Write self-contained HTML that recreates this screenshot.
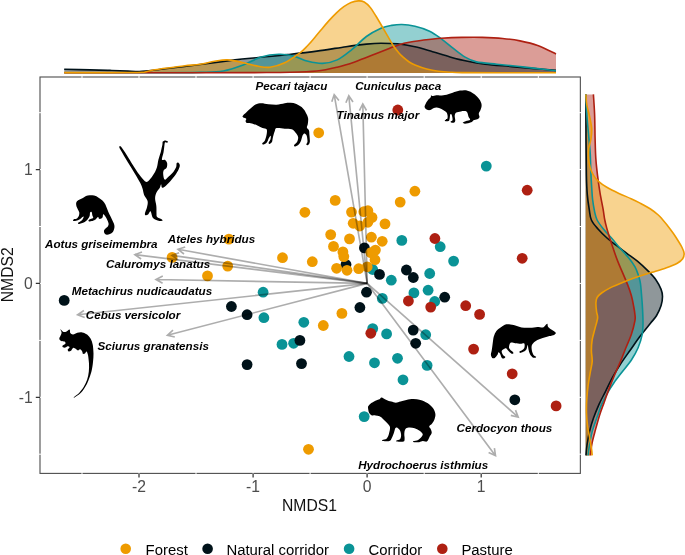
<!DOCTYPE html>
<html lang="en"><head><meta charset="utf-8"><title>NMDS ordination</title>
<style>html,body{margin:0;padding:0;background:#fff}svg{display:block;will-change:transform}text{font-family:"Liberation Sans",Arial,Helvetica,sans-serif}.sp{font-weight:bold;font-style:italic;font-size:11.65px;fill:#000}.tk{font-size:15.7px;fill:#4d4d4d}.ti{font-size:15.7px;fill:#111}.lg{font-size:14.9px;fill:#000}</style></head><body>
<svg width="685" height="555" viewBox="0 0 685 555">
<rect width="685" height="555" fill="#fff"/>
<g id="top-density">
<path d="M64.2 69.3C68.5 69.4 82.4 69.7 90 69.9C97.6 70.1 103.7 70.2 110 70.4C116.3 70.6 122.7 70.9 128 71.1C133.3 71.3 137.5 71.6 142 71.4C146.5 71.2 151.2 70.4 155 70C158.8 69.6 160.8 69.3 165 68.8C169.2 68.3 174.2 67.7 180 67C185.8 66.3 190.8 65.7 200 64.5C209.2 63.3 225.3 61.1 235 59.9C244.7 58.7 249.6 58.4 258.4 57.5C267.2 56.6 277.9 55.7 287.6 54.6C297.3 53.5 307.1 52.4 316.8 51.1C326.5 49.8 337.7 47.9 346 46.7C354.3 45.5 360.6 44.7 366.4 44.1C372.2 43.5 375.8 43.2 381 43.2C386.2 43.2 391.8 43.2 397.5 43.8C403.2 44.4 409.1 45.4 415 46.7C420.9 48 426.8 50 432.6 51.7C438.4 53.4 444.2 55.3 450 56.9C455.8 58.5 461.8 60.1 467.6 61.3C473.4 62.5 477.7 63.3 485 64.2C492.3 65.1 502.6 65.8 511.4 66.6C520.2 67.4 530.3 68.3 537.7 68.9C545.1 69.5 553 70.2 556 70.4L556 72.9L64.2 72.9Z" fill="#001219" fill-opacity=".44"/>
<path d="M64.2 72.7C78.5 72.7 127.4 72.8 150 72.7C172.6 72.7 187.8 72.7 200 72.4C212.2 72.1 216.1 72.3 223.4 71C230.7 69.7 237.5 67.1 243.8 64.8C250.1 62.4 255.5 58.6 261.3 56.9C267.1 55.1 273.5 54.4 278.8 54.3C284.1 54.1 288.5 54.8 293.4 56C298.3 57.2 303.1 60.1 308 61.3C312.9 62.5 317.7 63.6 322.6 63.4C327.5 63.2 332.3 62.2 337.2 59.9C342.1 57.6 346.9 53.5 351.8 49.6C356.7 45.7 361.5 40 366.4 36.5C371.3 33 376.8 30.2 381 28.3C385.2 26.4 388.2 26 391.7 25.4C395.2 24.8 398 24.4 401.9 24.5C405.8 24.6 410.4 25.2 415 26.3C419.6 27.4 425.2 29.1 429.6 31.2C434 33.3 437.4 36 441.3 38.8C445.2 41.6 449.1 45.2 453 48.2C456.9 51.2 460.8 54.6 464.7 56.9C468.6 59.2 471 60.7 476.4 61.9C481.8 63.1 490 63.5 496.8 64.2C503.6 64.9 510.4 65.6 517.2 66.3C524 67 531.2 67.9 537.7 68.6C544.2 69.3 553 70.3 556 70.7L556 72.9L64.2 72.9Z" fill="#0a9396" fill-opacity=".44"/>
<path d="M64.2 72.8C78.5 72.8 119 72.8 150 72.8C181 72.8 226.7 72.7 250 72.6C273.3 72.5 278.9 72.6 290 72.3C301.1 72 308.9 71.8 316.8 71C324.7 70.2 330.9 68.7 337.2 67.2C343.5 65.7 348.4 64.1 354.7 61.9C361 59.7 369.3 56.3 375.2 54C381.1 51.7 385.7 49.8 389.8 48.2C393.9 46.6 396.8 45.4 400 44.4C403.2 43.4 405.2 43 409.2 42.3C413.2 41.6 418.4 40.7 423.8 40C429.2 39.3 435 38.6 441.3 38.2C447.6 37.8 455 37.5 461.8 37.4C468.6 37.3 475.4 37.2 482.2 37.4C489 37.6 496.3 37.9 502.6 38.5C508.9 39.1 514.1 39.7 520 40.9C525.9 42.1 531.7 43.3 537.7 45.5C543.7 47.7 553 52.6 556 54L556 72.9L64.2 72.9Z" fill="#ae2012" fill-opacity=".44"/>
<path d="M64.2 72.6C70.2 72.6 89 72.6 100 72.6C111 72.6 123 72.5 130 72.5C137 72.5 139 72.5 142 72.3C145 72.1 145.8 71.7 148 71.3C150.2 70.9 152.2 70.2 155 69.7C157.8 69.2 160 69 165 68.3C170 67.6 179.2 66.5 185 65.8C190.8 65.1 195.1 65 200 64.2C204.9 63.5 210 62 214.6 61.3C219.2 60.6 222.8 59.6 227.7 59.9C232.6 60.1 238.7 61.7 243.8 62.8C248.9 63.9 254 65.6 258.4 66.3C262.8 67 265.6 67.8 270 67.2C274.4 66.6 279.7 65.2 284.7 62.8C289.7 60.4 296.2 55.6 300 52.8C303.8 50 304.9 48.5 307.3 46C309.7 43.5 312.2 40.6 314.6 37.7C317 34.9 319.5 31.8 321.9 28.9C324.3 26 326.8 23.1 329.2 20.4C331.6 17.7 334.1 15.1 336.5 12.8C338.9 10.5 341.4 8.3 343.8 6.6C346.2 4.9 348.7 3.3 351.1 2.4C353.5 1.5 356.2 1 358.4 0.9C360.6 0.8 362.2 0.9 364.2 2C366.1 3.1 368.2 5 370.1 7.3C372.1 9.6 373.9 12.9 375.9 16C377.8 19.1 379.9 22.7 381.8 26C383.7 29.3 385.4 32.2 387.4 35.6C389.4 39 391.8 43.4 393.7 46.2C395.6 49 396.9 50.5 398.5 52.4C400.1 54.3 401.6 55.8 403.4 57.4C405.2 59 407.3 60.7 409.2 62C411.1 63.3 412.1 63.8 415 65C417.9 66.2 422.8 68 426.7 69C430.6 70 434.5 70.7 438.4 71.2C442.3 71.7 446.1 72 450 72.2C453.9 72.4 453.7 72.5 462 72.6C470.3 72.7 484.3 72.7 500 72.7C515.7 72.7 546.7 72.7 556 72.7L556 72.9L64.2 72.9Z" fill="#ee9b00" fill-opacity=".44"/>
<path d="M64.2 69.3C68.5 69.4 82.4 69.7 90 69.9C97.6 70.1 103.7 70.2 110 70.4C116.3 70.6 122.7 70.9 128 71.1C133.3 71.3 137.5 71.6 142 71.4C146.5 71.2 151.2 70.4 155 70C158.8 69.6 160.8 69.3 165 68.8C169.2 68.3 174.2 67.7 180 67C185.8 66.3 190.8 65.7 200 64.5C209.2 63.3 225.3 61.1 235 59.9C244.7 58.7 249.6 58.4 258.4 57.5C267.2 56.6 277.9 55.7 287.6 54.6C297.3 53.5 307.1 52.4 316.8 51.1C326.5 49.8 337.7 47.9 346 46.7C354.3 45.5 360.6 44.7 366.4 44.1C372.2 43.5 375.8 43.2 381 43.2C386.2 43.2 391.8 43.2 397.5 43.8C403.2 44.4 409.1 45.4 415 46.7C420.9 48 426.8 50 432.6 51.7C438.4 53.4 444.2 55.3 450 56.9C455.8 58.5 461.8 60.1 467.6 61.3C473.4 62.5 477.7 63.3 485 64.2C492.3 65.1 502.6 65.8 511.4 66.6C520.2 67.4 530.3 68.3 537.7 68.9C545.1 69.5 553 70.2 556 70.4" fill="none" stroke="#001219" stroke-width="1.6"/>
<path d="M64.2 72.7C78.5 72.7 127.4 72.8 150 72.7C172.6 72.7 187.8 72.7 200 72.4C212.2 72.1 216.1 72.3 223.4 71C230.7 69.7 237.5 67.1 243.8 64.8C250.1 62.4 255.5 58.6 261.3 56.9C267.1 55.1 273.5 54.4 278.8 54.3C284.1 54.1 288.5 54.8 293.4 56C298.3 57.2 303.1 60.1 308 61.3C312.9 62.5 317.7 63.6 322.6 63.4C327.5 63.2 332.3 62.2 337.2 59.9C342.1 57.6 346.9 53.5 351.8 49.6C356.7 45.7 361.5 40 366.4 36.5C371.3 33 376.8 30.2 381 28.3C385.2 26.4 388.2 26 391.7 25.4C395.2 24.8 398 24.4 401.9 24.5C405.8 24.6 410.4 25.2 415 26.3C419.6 27.4 425.2 29.1 429.6 31.2C434 33.3 437.4 36 441.3 38.8C445.2 41.6 449.1 45.2 453 48.2C456.9 51.2 460.8 54.6 464.7 56.9C468.6 59.2 471 60.7 476.4 61.9C481.8 63.1 490 63.5 496.8 64.2C503.6 64.9 510.4 65.6 517.2 66.3C524 67 531.2 67.9 537.7 68.6C544.2 69.3 553 70.3 556 70.7" fill="none" stroke="#0a9396" stroke-width="1.6"/>
<path d="M64.2 72.8C78.5 72.8 119 72.8 150 72.8C181 72.8 226.7 72.7 250 72.6C273.3 72.5 278.9 72.6 290 72.3C301.1 72 308.9 71.8 316.8 71C324.7 70.2 330.9 68.7 337.2 67.2C343.5 65.7 348.4 64.1 354.7 61.9C361 59.7 369.3 56.3 375.2 54C381.1 51.7 385.7 49.8 389.8 48.2C393.9 46.6 396.8 45.4 400 44.4C403.2 43.4 405.2 43 409.2 42.3C413.2 41.6 418.4 40.7 423.8 40C429.2 39.3 435 38.6 441.3 38.2C447.6 37.8 455 37.5 461.8 37.4C468.6 37.3 475.4 37.2 482.2 37.4C489 37.6 496.3 37.9 502.6 38.5C508.9 39.1 514.1 39.7 520 40.9C525.9 42.1 531.7 43.3 537.7 45.5C543.7 47.7 553 52.6 556 54" fill="none" stroke="#ae2012" stroke-width="1.6"/>
<path d="M64.2 72.6C70.2 72.6 89 72.6 100 72.6C111 72.6 123 72.5 130 72.5C137 72.5 139 72.5 142 72.3C145 72.1 145.8 71.7 148 71.3C150.2 70.9 152.2 70.2 155 69.7C157.8 69.2 160 69 165 68.3C170 67.6 179.2 66.5 185 65.8C190.8 65.1 195.1 65 200 64.2C204.9 63.5 210 62 214.6 61.3C219.2 60.6 222.8 59.6 227.7 59.9C232.6 60.1 238.7 61.7 243.8 62.8C248.9 63.9 254 65.6 258.4 66.3C262.8 67 265.6 67.8 270 67.2C274.4 66.6 279.7 65.2 284.7 62.8C289.7 60.4 296.2 55.6 300 52.8C303.8 50 304.9 48.5 307.3 46C309.7 43.5 312.2 40.6 314.6 37.7C317 34.9 319.5 31.8 321.9 28.9C324.3 26 326.8 23.1 329.2 20.4C331.6 17.7 334.1 15.1 336.5 12.8C338.9 10.5 341.4 8.3 343.8 6.6C346.2 4.9 348.7 3.3 351.1 2.4C353.5 1.5 356.2 1 358.4 0.9C360.6 0.8 362.2 0.9 364.2 2C366.1 3.1 368.2 5 370.1 7.3C372.1 9.6 373.9 12.9 375.9 16C377.8 19.1 379.9 22.7 381.8 26C383.7 29.3 385.4 32.2 387.4 35.6C389.4 39 391.8 43.4 393.7 46.2C395.6 49 396.9 50.5 398.5 52.4C400.1 54.3 401.6 55.8 403.4 57.4C405.2 59 407.3 60.7 409.2 62C411.1 63.3 412.1 63.8 415 65C417.9 66.2 422.8 68 426.7 69C430.6 70 434.5 70.7 438.4 71.2C442.3 71.7 446.1 72 450 72.2C453.9 72.4 453.7 72.5 462 72.6C470.3 72.7 484.3 72.7 500 72.7C515.7 72.7 546.7 72.7 556 72.7" fill="none" stroke="#ee9b00" stroke-width="1.6"/>
</g>
<g id="right-density">
<path d="M585.9 94.4C585.9 101.8 585.9 125.1 586 138.6C586.1 152 586.2 165.8 586.4 175.1C586.6 184.4 586.8 188.9 587.3 194.6C587.8 200.3 588.5 205 589.2 209.2C589.9 213.4 589.9 216.7 591.4 220C592.9 223.3 595.4 226 598 229C600.6 232 604 235.3 607 238C610 240.7 612.7 242.6 616 245.2C619.3 247.8 623.2 250.6 626.8 253.3C630.4 256 634.1 258.4 637.7 261.4C641.3 264.4 645.5 268.4 648.5 271.4C651.5 274.4 653.6 276.5 655.7 279.5C657.8 282.5 660 286.5 661.1 289.4C662.2 292.2 662.5 293.9 662.5 296.6C662.5 299.3 662.1 302.5 661.1 305.6C660.1 308.8 658.4 312.5 656.6 315.5C654.8 318.5 653.1 319.9 650.3 323.5C647.4 327.1 642.9 332.5 639.5 337C636.1 341.5 633.2 346 630 350.5C626.8 355 623.4 359.6 620.5 364.1C617.6 368.6 614.9 373.1 612.4 377.6C609.9 382.1 608 386.6 605.7 391.1C603.5 395.6 600.9 400.1 598.9 404.6C596.9 409.1 595.1 413.6 593.5 418.1C591.9 422.6 590.6 427.1 589.5 431.6C588.4 436.1 587.6 441.1 587 445.1C586.4 449.1 586.2 453.7 586 455.4L585.7 455.4L585.7 94.4Z" fill="#001219" fill-opacity=".44"/>
<path d="M585.9 94.4C586 97.7 586.4 107.7 586.8 114.3C587.2 120.9 587.9 127.3 588.5 133.8C589.1 140.3 589.8 146.7 590.2 153.2C590.6 159.7 590.6 167 590.9 172.7C591.1 178.4 591.4 182.8 591.7 187.3C592 191.8 592.1 195.4 592.6 199.5C593.1 203.6 593.9 208.2 594.6 211.6C595.4 215 595.6 217.1 597.1 220C598.6 222.9 601 226 603.4 229C605.8 232 608.6 234.7 611.5 238C614.4 241.3 617.6 245.5 620.5 248.8C623.4 252.1 626.2 254.8 628.6 257.8C631 260.8 633.3 263.8 635 266.8C636.7 269.8 637.7 273.2 638.6 275.9C639.5 278.6 639.9 279.8 640.4 283.1C640.9 286.4 641.2 291.2 641.6 295.7C642 300.2 642.4 305.4 642.6 310C642.8 314.6 643.1 319.4 643 323.5C642.9 327.6 643 330.2 642.2 334.3C641.4 338.4 639.9 343.5 638.1 347.8C636.3 352.1 634.1 355.9 631.4 360C628.7 364.1 624.8 368.4 621.9 372.2C619 376 616.3 379.4 613.8 383C611.3 386.6 609 390.2 607 393.8C605 397.4 603.3 400.6 601.6 404.6C599.9 408.7 598.4 413.6 596.8 418.1C595.2 422.6 593.4 427.1 592.2 431.6C591 436.1 590.2 441.1 589.5 445.1C588.8 449.1 588.3 453.7 588.1 455.4L585.7 455.4L585.7 94.4Z" fill="#0a9396" fill-opacity=".44"/>
<path d="M593.4 94.4C593.6 97.7 594.3 106.9 594.6 114.3C594.9 121.7 594.9 131.3 595.1 138.6C595.3 145.9 595.4 152 595.8 158.1C596.2 164.2 596.8 169.4 597.5 175.1C598.2 180.8 599 186.5 599.9 192.2C600.8 197.9 602.3 204.6 603.1 209.2C603.9 213.8 604.1 216.7 604.8 220C605.4 223.3 606.2 226 607 229C607.8 232 608.7 234.7 609.7 238C610.8 241.3 611.9 244.9 613.3 248.8C614.6 252.7 616.1 257.2 617.8 261.4C619.4 265.6 621.6 270.2 623.2 274.1C624.9 278 626.3 281.3 627.7 284.9C629.1 288.5 630.4 292.1 631.4 295.7C632.4 299.3 633.1 303.3 633.7 306.5C634.3 309.7 634.8 312.6 635 315C635.2 317.4 635.5 317.6 634.9 320.8C634.3 324 632.9 329.8 631.4 334.3C629.9 338.8 627.7 343.3 625.9 347.8C624.1 352.3 622.4 356.9 620.5 361.4C618.6 365.9 616.5 370.4 614.6 374.9C612.7 379.4 610.9 383.9 609.2 388.4C607.5 392.9 605.9 397.4 604.3 401.9C602.7 406.4 600.9 410.9 599.5 415.4C598.1 419.9 596.9 424.4 595.7 428.9C594.5 433.4 593.1 438 592.2 442.4C591.3 446.8 590.6 453.2 590.3 455.4L585.7 455.4L585.7 94.4Z" fill="#ae2012" fill-opacity=".44"/>
<path d="M585.9 94.4C586 96.1 586.2 100.9 586.8 104.6C587.4 108.3 588.9 112.8 589.7 116.8C590.5 120.8 591.5 125.3 591.7 128.9C591.9 132.5 591.5 135.3 591 138.6C590.5 141.8 589.2 145.2 588.8 148.4C588.4 151.7 588.3 154.9 588.5 158.1C588.7 161.3 589.4 165 590.2 167.8C591 170.6 592.1 172.9 593.4 175.1C594.7 177.3 596 179.2 598.2 181.2C600.4 183.2 603.3 185.3 606.8 187.3C610.2 189.3 614.8 191.5 618.9 193.4C623 195.3 627.6 197.1 631.1 198.7C634.6 200.3 636.9 201.4 640.1 203.1C643.3 204.8 647.5 207 650.5 209C653.5 211 656.2 213.2 658.3 215C660.4 216.8 660.9 217.7 662.9 220C664.9 222.3 667.9 226 670.1 229C672.4 232 674.5 235 676.4 238C678.3 241 680.5 244.4 681.8 247C683.1 249.6 684 251.4 684.1 253.3C684.2 255.2 683.8 257.1 682.7 258.7C681.6 260.3 680 261.7 677.3 263.2C674.6 264.7 670.7 266.2 666.5 267.7C662.3 269.2 656.9 270.8 652.1 272.3C647.3 273.8 642.5 275.2 637.7 276.8C632.9 278.4 627.7 280.4 623.2 282.2C618.7 284 614.2 285.8 610.6 287.6C607 289.4 603.9 291.4 601.6 293C599.4 294.6 598.1 295.9 597.1 297.5C596.1 299.1 596 300.5 595.9 302.9C595.8 305.3 596.3 309.4 596.6 311.9C596.9 314.4 597.9 315.3 597.6 318.1C597.3 320.9 595.8 325.3 594.9 328.9C594 332.5 592.8 336.1 592.2 339.7C591.6 343.3 591.4 346.9 591.4 350.5C591.4 354.1 592.4 357.8 592.2 361.4C592 365 591 368.1 590.3 372.2C589.6 376.2 588.7 381.2 588.1 385.7C587.5 390.2 587.1 394.7 586.8 399.2C586.5 403.7 586.4 408.2 586.5 412.7C586.6 417.2 587.1 422.1 587.6 426.2C588.1 430.2 588.9 433.4 589.5 437C590.1 440.6 590.9 444.7 591.4 447.8C591.9 450.9 592.1 454.1 592.2 455.4L585.7 455.4L585.7 94.4Z" fill="#ee9b00" fill-opacity=".44"/>
<path d="M585.9 94.4C585.9 101.8 585.9 125.1 586 138.6C586.1 152 586.2 165.8 586.4 175.1C586.6 184.4 586.8 188.9 587.3 194.6C587.8 200.3 588.5 205 589.2 209.2C589.9 213.4 589.9 216.7 591.4 220C592.9 223.3 595.4 226 598 229C600.6 232 604 235.3 607 238C610 240.7 612.7 242.6 616 245.2C619.3 247.8 623.2 250.6 626.8 253.3C630.4 256 634.1 258.4 637.7 261.4C641.3 264.4 645.5 268.4 648.5 271.4C651.5 274.4 653.6 276.5 655.7 279.5C657.8 282.5 660 286.5 661.1 289.4C662.2 292.2 662.5 293.9 662.5 296.6C662.5 299.3 662.1 302.5 661.1 305.6C660.1 308.8 658.4 312.5 656.6 315.5C654.8 318.5 653.1 319.9 650.3 323.5C647.4 327.1 642.9 332.5 639.5 337C636.1 341.5 633.2 346 630 350.5C626.8 355 623.4 359.6 620.5 364.1C617.6 368.6 614.9 373.1 612.4 377.6C609.9 382.1 608 386.6 605.7 391.1C603.5 395.6 600.9 400.1 598.9 404.6C596.9 409.1 595.1 413.6 593.5 418.1C591.9 422.6 590.6 427.1 589.5 431.6C588.4 436.1 587.6 441.1 587 445.1C586.4 449.1 586.2 453.7 586 455.4" fill="none" stroke="#001219" stroke-width="1.6"/>
<path d="M585.9 94.4C586 97.7 586.4 107.7 586.8 114.3C587.2 120.9 587.9 127.3 588.5 133.8C589.1 140.3 589.8 146.7 590.2 153.2C590.6 159.7 590.6 167 590.9 172.7C591.1 178.4 591.4 182.8 591.7 187.3C592 191.8 592.1 195.4 592.6 199.5C593.1 203.6 593.9 208.2 594.6 211.6C595.4 215 595.6 217.1 597.1 220C598.6 222.9 601 226 603.4 229C605.8 232 608.6 234.7 611.5 238C614.4 241.3 617.6 245.5 620.5 248.8C623.4 252.1 626.2 254.8 628.6 257.8C631 260.8 633.3 263.8 635 266.8C636.7 269.8 637.7 273.2 638.6 275.9C639.5 278.6 639.9 279.8 640.4 283.1C640.9 286.4 641.2 291.2 641.6 295.7C642 300.2 642.4 305.4 642.6 310C642.8 314.6 643.1 319.4 643 323.5C642.9 327.6 643 330.2 642.2 334.3C641.4 338.4 639.9 343.5 638.1 347.8C636.3 352.1 634.1 355.9 631.4 360C628.7 364.1 624.8 368.4 621.9 372.2C619 376 616.3 379.4 613.8 383C611.3 386.6 609 390.2 607 393.8C605 397.4 603.3 400.6 601.6 404.6C599.9 408.7 598.4 413.6 596.8 418.1C595.2 422.6 593.4 427.1 592.2 431.6C591 436.1 590.2 441.1 589.5 445.1C588.8 449.1 588.3 453.7 588.1 455.4" fill="none" stroke="#0a9396" stroke-width="1.6"/>
<path d="M593.4 94.4C593.6 97.7 594.3 106.9 594.6 114.3C594.9 121.7 594.9 131.3 595.1 138.6C595.3 145.9 595.4 152 595.8 158.1C596.2 164.2 596.8 169.4 597.5 175.1C598.2 180.8 599 186.5 599.9 192.2C600.8 197.9 602.3 204.6 603.1 209.2C603.9 213.8 604.1 216.7 604.8 220C605.4 223.3 606.2 226 607 229C607.8 232 608.7 234.7 609.7 238C610.8 241.3 611.9 244.9 613.3 248.8C614.6 252.7 616.1 257.2 617.8 261.4C619.4 265.6 621.6 270.2 623.2 274.1C624.9 278 626.3 281.3 627.7 284.9C629.1 288.5 630.4 292.1 631.4 295.7C632.4 299.3 633.1 303.3 633.7 306.5C634.3 309.7 634.8 312.6 635 315C635.2 317.4 635.5 317.6 634.9 320.8C634.3 324 632.9 329.8 631.4 334.3C629.9 338.8 627.7 343.3 625.9 347.8C624.1 352.3 622.4 356.9 620.5 361.4C618.6 365.9 616.5 370.4 614.6 374.9C612.7 379.4 610.9 383.9 609.2 388.4C607.5 392.9 605.9 397.4 604.3 401.9C602.7 406.4 600.9 410.9 599.5 415.4C598.1 419.9 596.9 424.4 595.7 428.9C594.5 433.4 593.1 438 592.2 442.4C591.3 446.8 590.6 453.2 590.3 455.4" fill="none" stroke="#ae2012" stroke-width="1.6"/>
<path d="M585.9 94.4C586 96.1 586.2 100.9 586.8 104.6C587.4 108.3 588.9 112.8 589.7 116.8C590.5 120.8 591.5 125.3 591.7 128.9C591.9 132.5 591.5 135.3 591 138.6C590.5 141.8 589.2 145.2 588.8 148.4C588.4 151.7 588.3 154.9 588.5 158.1C588.7 161.3 589.4 165 590.2 167.8C591 170.6 592.1 172.9 593.4 175.1C594.7 177.3 596 179.2 598.2 181.2C600.4 183.2 603.3 185.3 606.8 187.3C610.2 189.3 614.8 191.5 618.9 193.4C623 195.3 627.6 197.1 631.1 198.7C634.6 200.3 636.9 201.4 640.1 203.1C643.3 204.8 647.5 207 650.5 209C653.5 211 656.2 213.2 658.3 215C660.4 216.8 660.9 217.7 662.9 220C664.9 222.3 667.9 226 670.1 229C672.4 232 674.5 235 676.4 238C678.3 241 680.5 244.4 681.8 247C683.1 249.6 684 251.4 684.1 253.3C684.2 255.2 683.8 257.1 682.7 258.7C681.6 260.3 680 261.7 677.3 263.2C674.6 264.7 670.7 266.2 666.5 267.7C662.3 269.2 656.9 270.8 652.1 272.3C647.3 273.8 642.5 275.2 637.7 276.8C632.9 278.4 627.7 280.4 623.2 282.2C618.7 284 614.2 285.8 610.6 287.6C607 289.4 603.9 291.4 601.6 293C599.4 294.6 598.1 295.9 597.1 297.5C596.1 299.1 596 300.5 595.9 302.9C595.8 305.3 596.3 309.4 596.6 311.9C596.9 314.4 597.9 315.3 597.6 318.1C597.3 320.9 595.8 325.3 594.9 328.9C594 332.5 592.8 336.1 592.2 339.7C591.6 343.3 591.4 346.9 591.4 350.5C591.4 354.1 592.4 357.8 592.2 361.4C592 365 591 368.1 590.3 372.2C589.6 376.2 588.7 381.2 588.1 385.7C587.5 390.2 587.1 394.7 586.8 399.2C586.5 403.7 586.4 408.2 586.5 412.7C586.6 417.2 587.1 422.1 587.6 426.2C588.1 430.2 588.9 433.4 589.5 437C590.1 440.6 590.9 444.7 591.4 447.8C591.9 450.9 592.1 454.1 592.2 455.4" fill="none" stroke="#ee9b00" stroke-width="1.6"/>
</g>
<g id="points">
<g fill="#0a9396"><circle cx="486.3" cy="166.1" r="5.4"/><circle cx="401.8" cy="240.4" r="5.4"/><circle cx="372.7" cy="269.5" r="5.4"/><circle cx="391.3" cy="280.2" r="5.4"/><circle cx="413.9" cy="292.9" r="5.4"/><circle cx="440.2" cy="246.7" r="5.4"/><circle cx="453.6" cy="261.1" r="5.4"/><circle cx="429.7" cy="273.5" r="5.4"/><circle cx="428.1" cy="290.2" r="5.4"/><circle cx="434.7" cy="301.5" r="5.4"/><circle cx="425.7" cy="334.7" r="5.4"/><circle cx="427.1" cy="365.4" r="5.4"/><circle cx="397.5" cy="358.3" r="5.4"/><circle cx="403" cy="379.8" r="5.4"/><circle cx="382.3" cy="298.4" r="5.4"/><circle cx="303.8" cy="322.3" r="5.4"/><circle cx="263.1" cy="292.2" r="5.4"/><circle cx="263.9" cy="317.7" r="5.4"/><circle cx="372.7" cy="328.6" r="5.4"/><circle cx="386.6" cy="333.9" r="5.4"/><circle cx="282" cy="344.4" r="5.4"/><circle cx="293.6" cy="343.3" r="5.4"/><circle cx="349" cy="356.5" r="5.4"/><circle cx="374.5" cy="362.8" r="5.4"/><circle cx="364.2" cy="416.6" r="5.4"/></g>
<g fill="#001219"><circle cx="64.2" cy="300.4" r="5.4"/><circle cx="364.4" cy="247.9" r="5.4"/><circle cx="346" cy="264.6" r="5.4"/><circle cx="379.5" cy="274.4" r="5.4"/><circle cx="406.4" cy="270" r="5.4"/><circle cx="413.3" cy="277.5" r="5.4"/><circle cx="366.5" cy="292.2" r="5.4"/><circle cx="444.7" cy="297.2" r="5.4"/><circle cx="359.9" cy="307.5" r="5.4"/><circle cx="247.1" cy="314.7" r="5.4"/><circle cx="231.4" cy="306.5" r="5.4"/><circle cx="413.2" cy="330.1" r="5.4"/><circle cx="415.7" cy="343.3" r="5.4"/><circle cx="299.9" cy="340.4" r="5.4"/><circle cx="247.1" cy="364.6" r="5.4"/><circle cx="301.5" cy="363.6" r="5.4"/><circle cx="514.8" cy="399.8" r="5.4"/></g>
<g fill="#ae2012"><circle cx="397.8" cy="110" r="5.4"/><circle cx="527.2" cy="190.2" r="5.4"/><circle cx="434.9" cy="238.5" r="5.4"/><circle cx="522.2" cy="258.3" r="5.4"/><circle cx="408.4" cy="301" r="5.4"/><circle cx="430.7" cy="307.1" r="5.4"/><circle cx="465.7" cy="305.7" r="5.4"/><circle cx="479.6" cy="314.4" r="5.4"/><circle cx="473.6" cy="349.1" r="5.4"/><circle cx="512.2" cy="373.8" r="5.4"/><circle cx="556.1" cy="405.9" r="5.4"/><circle cx="370.8" cy="333.3" r="5.4"/></g>
<g fill="#ee9b00"><circle cx="414.9" cy="191.2" r="5.4"/><circle cx="400.2" cy="202.1" r="5.4"/><circle cx="335.2" cy="200.4" r="5.4"/><circle cx="304.9" cy="212.3" r="5.4"/><circle cx="351.5" cy="212.1" r="5.4"/><circle cx="363.8" cy="211.7" r="5.4"/><circle cx="367.9" cy="210.7" r="5.4"/><circle cx="372" cy="217.4" r="5.4"/><circle cx="353.2" cy="223.3" r="5.4"/><circle cx="359.7" cy="226" r="5.4"/><circle cx="367.9" cy="222.3" r="5.4"/><circle cx="385" cy="223.9" r="5.4"/><circle cx="330.7" cy="234.6" r="5.4"/><circle cx="349.5" cy="238.9" r="5.4"/><circle cx="371.4" cy="237.2" r="5.4"/><circle cx="382.2" cy="241.3" r="5.4"/><circle cx="333.5" cy="246.4" r="5.4"/><circle cx="342.9" cy="251.9" r="5.4"/><circle cx="343.8" cy="256.6" r="5.4"/><circle cx="375.4" cy="250.1" r="5.4"/><circle cx="370.9" cy="252.6" r="5.4"/><circle cx="375" cy="259.7" r="5.4"/><circle cx="282.5" cy="257.7" r="5.4"/><circle cx="312.3" cy="261.7" r="5.4"/><circle cx="336.6" cy="268.3" r="5.4"/><circle cx="347" cy="270.3" r="5.4"/><circle cx="358.7" cy="268.7" r="5.4"/><circle cx="367.2" cy="266.8" r="5.4"/><circle cx="318.7" cy="132.8" r="5.4"/><circle cx="228.9" cy="239.1" r="5.4"/><circle cx="172.1" cy="257.4" r="5.4"/><circle cx="227.7" cy="266.1" r="5.4"/><circle cx="207.5" cy="275.9" r="5.4"/><circle cx="341.9" cy="313.4" r="5.4"/><circle cx="323.3" cy="325.5" r="5.4"/><circle cx="308.5" cy="449.3" r="5.4"/></g>
</g>
<g id="animals" fill="#000">
<path d="M242.7 115.9C243.2 115 244.8 113.6 246.2 112.4C247.5 111.1 249.3 109.6 250.8 108.3C252.4 106.9 253.8 105.2 255.5 104.4C257.3 103.6 259.2 103.3 261.4 103.2C263.5 103.2 265.8 103.9 268.4 104.2C270.9 104.4 273.8 104.9 276.5 104.8C279.3 104.6 282.4 103.6 284.7 103.2C287.1 102.9 288.6 102.7 290.6 102.8C292.5 102.9 294.5 103.2 296.4 103.9C298.2 104.7 300.1 105.7 301.6 107.1C303.2 108.5 304.7 110.5 305.7 112.4C306.8 114.2 307.7 116.2 308.1 118.2C308.4 120.1 308 122.5 307.8 124C307.6 125.6 306.7 126.5 306.9 127.5C307.1 128.6 308.6 129.1 309 130.5C309.4 131.8 309.3 133.8 309.5 135.7C309.6 137.7 310.1 140.6 309.8 142.1C309.6 143.7 308.7 144.7 308.1 145.1C307.5 145.4 306.4 145.1 306.3 144.5C306.2 143.9 307.4 143 307.5 141.5C307.5 140.1 307.2 137.1 306.7 135.7C306.2 134.3 305.2 133.5 304.6 133.4C303.9 133.3 303.4 134 302.8 135.1C302.2 136.3 301.7 138.8 301.1 140.4C300.4 141.9 299.7 143.5 298.7 144.5C297.8 145.5 296 146.4 295.2 146.5C294.4 146.5 293.8 145.8 294.1 145.1C294.4 144.3 296.3 143.5 297 142.1C297.7 140.8 298.4 138.5 298.1 136.9C297.9 135.2 296.3 133.5 295.2 132.2C294.2 130.9 293.5 129.9 291.7 129.3C290 128.7 287.2 128.9 284.7 128.7C282.2 128.5 278.2 127.7 276.5 128.1C274.9 128.5 275.4 129.6 274.8 131C274.2 132.5 273.5 135 273 136.9C272.5 138.7 272.5 141 271.9 142.1C271.3 143.3 270.1 143.8 269.5 143.9C269 144 268.4 143.5 268.6 142.7C268.8 141.9 270.1 140.4 270.5 139.2C270.8 138 271 135.9 270.7 135.7C270.4 135.5 269.6 136.9 268.9 138C268.3 139.2 267.6 141.6 266.6 142.7C265.6 143.8 263.8 144.4 263.1 144.5C262.4 144.6 262 144 262.3 143.3C262.6 142.6 264.1 141.8 264.9 140.4C265.6 138.9 266.3 136.4 266.6 134.5C266.9 132.7 267.3 130.4 266.6 129.3C265.9 128.2 264 128.7 262.5 128.1C261.1 127.5 259.6 126.6 257.9 125.8C256.1 125 253.9 123.9 252 123.4C250.2 123 247.8 123.3 246.8 122.9C245.7 122.5 245.7 121.8 245.6 121.1C245.5 120.4 246.6 119.4 246.2 118.8C245.8 118.2 243.8 118.1 243.3 117.6C242.7 117.1 242.2 116.7 242.7 115.9Z"/>
<path d="M424.6 107C424.4 106.1 425 105.1 425.6 103.9C426.2 102.7 427.3 100.9 428.2 99.8C429 98.7 430.3 98.1 430.7 97.3C431.2 96.5 430.8 95.2 431 95C431.3 94.8 431.4 96 432.3 96.1C433.1 96.1 435 95.3 436.3 95.2C437.7 95.1 438.7 95.5 440.4 95.4C442.1 95.4 444.5 95.2 446.6 94.7C448.6 94.3 450.5 93.4 452.7 92.7C454.9 92 457.6 91 459.9 90.6C462.1 90.3 463.9 90 466 90.3C468 90.7 470.2 91.6 472.1 92.7C474 93.8 475.8 95.2 477.2 96.8C478.7 98.3 480.1 100.3 480.8 101.9C481.5 103.4 481.7 104.5 481.6 106C481.5 107.4 480.8 109.3 480.3 110.6C479.8 111.8 478.9 112.5 478.8 113.6C478.6 114.7 479.7 116.3 479.5 117.2C479.2 118.1 478.2 118.7 477.2 119.3C476.3 119.8 474.5 119.9 473.6 120.3C472.8 120.7 473.1 121.3 472.1 121.8C471.2 122.3 469.4 123 468 123.3C466.7 123.6 464.8 123.8 463.9 123.6C463.1 123.5 462.6 123.1 462.9 122.6C463.3 122.2 464.8 121.5 466 121C467.2 120.5 469.6 120.5 470.1 119.8C470.5 119.1 469.1 118.1 468.5 116.7C467.9 115.3 467.8 112.5 466.5 111.6C465.2 110.7 462.6 111.2 460.9 111.4C459.2 111.6 457.3 111.9 456.3 112.6C455.3 113.3 454.9 114.4 454.7 115.7C454.6 117 455.3 119.1 455.3 120.3C455.2 121.4 454.9 122.2 454.2 122.6C453.6 123 451.8 122.8 451.2 122.6C450.6 122.5 450.4 122 450.7 121.6C450.9 121.2 452.2 121.1 452.5 120.3C452.8 119.5 452.4 117.7 452.2 116.7C452 115.7 451.5 114.5 451.2 114.1C450.8 113.8 450.4 113.9 450.1 114.7C449.9 115.4 449.9 117.7 449.6 118.7C449.4 119.8 449.3 120.6 448.6 121C447.9 121.4 446.2 121.4 445.5 121.3C444.9 121.2 444.6 120.6 444.8 120.3C445.1 119.9 446.6 120 447.1 119.3C447.5 118.5 447.8 116.9 447.6 115.7C447.4 114.5 447.1 113.2 446.1 112.1C445 111 443 109.8 441.5 109C439.9 108.3 438.2 107.6 436.9 107.5C435.5 107.4 434.4 107.9 433.3 108.3C432.2 108.7 431.3 109.9 430.2 110.1C429.1 110.3 427.6 110.1 426.6 109.5C425.7 109 424.8 107.9 424.6 107Z"/>
<path d="M555.8 333.2C555.9 332.5 554.6 331.8 553.7 331.1C552.8 330.4 551.5 329.8 550.5 329C549.6 328.2 548.4 327.3 547.9 326.4C547.4 325.5 547.8 324 547.4 323.8C546.9 323.6 546.1 324.7 545.3 325.4C544.5 326 544 327.2 542.7 327.5C541.3 327.7 539.5 326.9 537.4 326.9C535.3 327 532.7 327.6 530 327.7C527.4 327.8 524.1 327.8 521.6 327.5C519.2 327.1 517.4 326.1 515.3 325.6C513.2 325 510.8 324.4 509 324.3C507.3 324.2 506.2 324.3 504.8 324.8C503.4 325.4 502 326.4 500.6 327.5C499.2 328.5 497.5 329.6 496.4 331.1C495.3 332.6 494.4 334.4 493.8 336.4C493.2 338.4 493.1 340.9 492.7 343.2C492.4 345.6 492 348.7 491.7 350.6C491.4 352.5 490.9 353.6 490.9 354.8C491 356 491.6 357.4 492.2 357.9C492.9 358.5 494 358.5 494.8 357.9C495.7 357.4 496.8 355.8 497.5 354.8C498.1 353.8 498.1 352.3 498.5 352.2C498.9 352 499.6 352.8 500.1 353.7C500.6 354.7 501.1 356.9 501.7 357.7C502.3 358.5 503.2 358.6 503.8 358.5C504.4 358.3 505.4 357.4 505.3 356.9C505.3 356.4 503.9 356.3 503.2 355.3C502.6 354.3 501.4 352.2 501.7 351.1C501.9 350 504 348.9 504.8 348.5C505.6 348 505.7 348 506.4 348.5C507.1 349 508.1 350.8 509 351.6C509.9 352.5 510.9 353.5 511.6 353.7C512.4 354 513.3 353.5 513.4 353.2C513.6 352.9 513.3 352.5 512.7 351.8C512.1 351.2 510.7 350.4 510.1 349.5C509.5 348.7 508.9 348 509 346.9C509.1 345.8 509.5 343.3 510.6 342.7C511.6 342.1 513.7 343.1 515.3 343.2C517 343.4 519.1 343.7 520.6 343.8C522.1 343.8 523.6 342.7 524.3 343.4C524.9 344.1 524.7 346.8 524.3 348C523.8 349.1 522.4 350 521.6 350.6C520.8 351.2 519.8 351.2 519.5 351.6C519.3 352 519.4 352.9 520.1 352.9C520.7 352.9 522.2 352.4 523.2 351.8C524.3 351.3 525.6 350.7 526.4 349.5C527.1 348.4 527.4 345.1 527.7 345.1C528.1 345.1 528.1 348 528.5 349.5C528.9 351.1 529.3 352.9 530 354.3C530.7 355.6 531.8 356.8 532.7 357.4C533.5 358 534.7 357.9 535.3 357.7C535.9 357.6 536.4 357.1 536.1 356.7C535.9 356.3 534.4 356.2 533.7 355.3C533.1 354.5 532.5 353.1 532.1 351.6C531.8 350.1 531.4 347.8 531.6 346.4C531.8 345 532.2 344.3 533.2 343.2C534.2 342.2 535.8 340.9 537.4 340.1C539 339.2 540.9 338.6 542.7 338C544.4 337.4 546.2 336.8 547.9 336.4C549.7 336 551.9 335.9 553.2 335.3C554.5 334.8 555.7 333.9 555.8 333.2Z"/>
<path d="M368.1 408.4C367.9 407.2 367.9 406.9 368.4 406C369 405.1 370.1 404 371.3 403.1C372.6 402.2 374.7 401.1 376 400.4C377.4 399.8 378.6 399.7 379.5 399.2C380.4 398.8 380.6 397.7 381.3 397.6C382 397.5 382.7 398 383.6 398.4C384.5 398.8 385.3 399.4 386.5 399.9C387.8 400.5 389.6 401.1 391.2 401.6C392.8 402 394.3 402.7 395.9 402.7C397.4 402.7 398.8 402 400.5 401.6C402.3 401.1 404.2 400.4 406.4 399.9C408.5 399.5 411.1 399 413.4 399C415.7 399 418.1 399.3 420.4 399.9C422.7 400.6 425.4 401.8 427.4 403.1C429.4 404.4 431.3 406 432.7 407.8C434 409.5 435 411.8 435.3 413.6C435.7 415.5 435.2 417.2 434.6 418.9C434.1 420.5 433 422.3 432.1 423.5C431.2 424.8 429.3 425.5 429.2 426.5C429 427.4 430.5 428.3 430.9 429.4C431.3 430.4 431.9 431.7 431.7 432.9C431.5 434 430.5 435 429.7 436.4C429 437.7 428.2 440.2 427.4 441.1C426.6 441.9 425.8 441.6 425.1 441.6C424.3 441.6 423.7 441 422.7 441.1C421.8 441.1 420.7 442 419.2 442.2C417.8 442.4 414.9 442.4 414 442.2C413 442 412.7 441.4 413.4 441.1C414.1 440.7 416.8 440.5 418.1 439.9C419.3 439.3 420.2 438.5 421 437.5C421.8 436.6 423 435.2 422.7 434C422.4 432.9 420.6 431.5 419.2 430.5C417.9 429.6 416.3 428.7 414.6 428.2C412.8 427.7 410.3 427.4 408.7 427.6C407.2 427.8 406 428.3 405.2 429.4C404.5 430.4 404.4 432.5 404.3 434C404.2 435.6 404.8 437.5 404.6 438.7C404.5 440 404.7 441.1 403.5 441.6C402.2 442.1 398.2 441.8 397 441.6C395.9 441.4 396 440.9 396.5 440.5C396.9 440.1 399.2 440.2 400 439.3C400.7 438.4 401.1 436.7 401.1 435.2C401.1 433.8 400.6 431.8 400 430.5C399.3 429.3 397.8 428 397 427.6C396.3 427.2 395.8 427.4 395.3 428.2C394.8 429 394.7 430.6 394.1 432.3C393.5 433.9 392.6 436.7 391.8 438.1C391 439.6 390.9 440.6 389.4 441.1C388 441.5 384.2 441.2 383 441.1C381.9 440.9 381.9 440.3 382.4 439.9C383 439.5 385.5 439.7 386.5 438.7C387.6 437.7 388.3 436 388.9 434C389.4 432.1 390.3 428.9 390 427C389.7 425.2 388.3 424.3 387.1 422.9C385.9 421.6 384.3 420 383 418.9C381.8 417.8 380.8 416.9 379.5 416.3C378.3 415.7 376.7 415.5 375.4 415.4C374.2 415.2 373 415.7 371.9 415.4C370.9 415 369.9 414.2 369.2 413C368.6 411.9 368.2 409.5 368.1 408.4Z"/>
<path d="M60.4 329.3C60.7 329.2 62 331.3 63 331.7C63.9 332.1 65 332.1 66.1 331.7C67.2 331.4 68.9 329.4 69.6 329.6C70.3 329.9 69.7 332.3 70.3 333.1C70.9 334 71.9 334.6 73.1 334.5C74.3 334.5 75.8 333.1 77.3 332.7C78.8 332.4 80.6 332.1 82.2 332.4C83.9 332.7 85.7 333.5 87.1 334.5C88.5 335.6 89.7 337 90.7 338.8C91.6 340.5 92.3 342.6 92.8 345.1C93.2 347.5 93.4 350.7 93.5 353.5C93.5 356.3 93.4 358.9 93 361.9C92.7 365 92.1 368.7 91.4 371.8C90.6 374.8 89.6 377.6 88.5 380.2C87.5 382.8 86.4 385 85 387.2C83.6 389.5 81.9 391.9 80.1 393.6C78.4 395.3 75.5 396.8 74.5 397.4C73.5 397.9 73.3 397.7 74.1 396.9C74.8 396.2 77.5 394.7 79.1 393C80.7 391.3 82.4 389 83.8 386.8C85.1 384.6 86.3 382.3 87.1 379.8C88 377.3 88.5 374.5 88.8 371.8C89.1 369 89.1 366.2 89 363.4C88.8 360.5 88.4 356.9 88 354.9C87.6 352.9 86.9 351.6 86.4 351.4C85.9 351.2 85.6 353.1 85 353.5C84.4 353.9 83.4 354.1 82.9 353.8C82.5 353.4 82.7 352.2 82.2 351.4C81.7 350.7 80.8 349.5 80.1 349.3C79.4 349.1 78.7 350.5 78 350.4C77.3 350.4 76.7 349.4 75.9 349C75.1 348.6 73.9 347.6 73.1 347.9C72.3 348.2 71.7 350.1 71 350.7C70.2 351.3 69.1 351.6 68.6 351.4C68 351.2 67.6 350.3 67.7 349.6C67.9 348.9 69.6 347.8 69.6 347.2C69.5 346.6 68.2 346.1 67.5 346.2C66.8 346.3 66.1 347.4 65.4 347.6C64.6 347.8 63.4 347.5 63 347.2C62.5 346.9 62.1 346.4 62.5 345.8C62.9 345.2 65 344.4 65.4 343.7C65.7 343 65.4 342 64.6 341.6C63.9 341.1 62 341.3 61.1 340.9C60.2 340.4 59.4 339.7 59.3 338.8C59.2 337.8 60.3 336.3 60.7 335.2C61.1 334.2 61.6 333.4 61.6 332.4C61.5 331.4 60.2 329.5 60.4 329.3Z"/>
<path d="M76.1 203.5C76.2 202.6 76.4 201.9 77 201.3C77.6 200.6 78.7 200 79.7 199.5C80.7 198.9 81.8 198.7 82.9 198.1C83.9 197.6 84.9 196.6 86 196.1C87.1 195.6 88.3 195.3 89.6 195.2C91 195.1 92.6 195.2 94.1 195.6C95.6 196 97.2 196.8 98.6 197.7C100.1 198.5 101.6 199.7 102.7 200.8C103.8 201.9 104.6 203.1 105.4 204.4C106.1 205.8 106.5 207.3 107.2 208.9C107.9 210.6 108.6 212.5 109.4 214.3C110.3 216.1 111.4 218.1 112.1 219.7C112.9 221.4 113.8 222.9 114.1 224.2C114.5 225.6 114.6 226.6 114.4 227.8C114.2 229.1 113.6 230.8 112.9 231.9C112.1 232.9 110.9 233.7 109.9 234.1C108.9 234.6 107.6 234.9 106.7 234.8C105.8 234.6 104.9 233.9 104.5 233.2C104 232.5 103.8 231.4 104 230.5C104.3 229.7 105.2 229 105.8 228.3C106.5 227.5 107.6 226.9 108.1 226C108.5 225.2 108.8 224.5 108.5 223.3C108.3 222.1 107.4 220.2 106.7 218.8C106.1 217.5 105.1 216 104.5 215.2C103.9 214.5 103.4 214 103.1 214.3C102.8 214.6 103 216.3 102.7 217C102.4 217.7 101.9 218.3 101.3 218.6C100.7 218.9 99.6 219.1 99.1 218.8C98.6 218.6 98.6 217.2 98.2 217C97.8 216.9 97.4 217.5 96.8 217.9C96.3 218.4 95.9 219.2 95 219.7C94.2 220.3 92.8 220.8 91.9 221.1C90.9 221.4 89.7 221.5 89.2 221.4C88.6 221.2 88.3 220.6 88.5 220.2C88.8 219.8 89.7 219.4 90.5 219C91.3 218.7 92.9 218.7 93.2 218.1C93.5 217.5 92.6 216.2 92.3 215.2C92.1 214.2 92 212.5 91.6 212.1C91.2 211.6 90.4 211.8 90.1 212.5C89.7 213.2 90.1 214.9 89.6 216.1C89.2 217.3 88.2 218.8 87.4 219.7C86.5 220.7 85.6 221.4 84.7 222C83.7 222.6 82.5 223 81.5 223.3C80.5 223.7 79.4 224.1 78.8 224.1C78.2 224 77.9 223.3 78.1 222.9C78.3 222.5 79.4 222.1 80.2 221.5C80.9 221 81.8 220.6 82.4 219.7C83 218.9 83.8 217 83.8 216.6C83.8 216.1 82.9 216.7 82.4 217C81.9 217.4 81.4 218.3 80.6 218.8C79.9 219.4 79 219.8 77.9 220.2C76.9 220.6 75.1 221 74.3 221.1C73.5 221.1 73 220.8 73 220.5C73 220.1 73.6 219.4 74.3 219C75 218.7 76.3 218.9 77 218.4C77.8 217.9 78.4 217.1 78.8 216.1C79.2 215.2 79.4 213.6 79.3 212.5C79.1 211.4 78.4 210.3 77.9 209.4C77.5 208.4 76.9 207.6 76.6 206.7C76.3 205.7 76 204.4 76.1 203.5Z"/>
<path d="M119.5 146.3C119.8 146.1 119.9 145.3 121.1 146.8C122.3 148.2 124.7 151.9 126.7 155C128.7 158.1 130.9 162 133 165.3C135.1 168.6 137.4 172.2 139.4 174.8C141.4 177.5 143.5 180.1 144.9 181.2C146.4 182.2 146.8 182.1 148.1 181.2C149.4 180.3 151.4 177.9 152.8 175.6C154.3 173.4 155.9 170.4 156.8 167.7C157.7 165.1 157.7 162.4 158.4 159.8C159.1 157.1 160.1 154.4 160.8 151.9C161.4 149.3 162 146.4 162.4 144.7C162.7 143 162.3 142.3 162.8 141.5C163.4 140.8 164.7 140.4 165.5 140.4C166.4 140.4 167.6 141.2 167.9 141.5C168.2 141.9 167.6 142.5 167.1 142.7C166.6 142.8 165.5 141.9 165.1 142.3C164.6 142.8 164.7 143.8 164.4 145.5C164.2 147.2 163.9 150.3 163.5 152.6C163 155 161.7 158.3 161.9 159.5C162.1 160.7 163.9 159.2 164.7 159.8C165.6 160.4 166.8 161.6 167.1 163C167.4 164.3 167.2 166.5 166.6 167.7C166.1 168.9 164.5 169 163.9 170.1C163.4 171.1 163 172.5 163.2 174.1C163.3 175.6 163.8 179.2 164.7 179.6C165.7 180 167.2 177.8 168.7 176.4C170.2 175.1 172.2 173.3 173.5 171.7C174.7 170.1 175.6 168.3 176.2 166.9C176.7 165.5 176.3 164 176.6 163.3C177 162.6 177.7 162.3 178.2 162.6C178.7 163 179.7 164.2 179.8 165.3C179.9 166.4 179.5 167.6 178.7 169.3C177.9 171 176.4 173.7 175 175.6C173.6 177.6 172 179.3 170.3 181.2C168.6 183 166.1 185.7 164.7 186.7C163.3 187.8 162.5 187.8 161.9 187.4C161.3 186.9 161.5 184.1 161.1 184.2C160.7 184.3 160.4 186.6 159.7 188C158.9 189.4 157.3 190.8 156.5 192.4C155.7 194.1 155.1 195.9 155.1 198.2C155 200.4 156.1 203.2 156.3 205.8C156.6 208.4 156.4 211.8 156.5 213.7C156.6 215.5 156.3 215.9 157.1 216.9C158 217.8 160.7 218.6 161.6 219.2C162.4 219.9 163 220.6 162.4 220.8C161.7 221 159.2 220.9 157.6 220.4C156 219.8 154 219.2 152.8 217.7C151.7 216.1 151.3 211.8 150.5 211.3C149.7 210.8 148.9 213.8 148.1 214.5C147.3 215.1 146.2 215.5 145.7 215.3C145.2 215.1 144.7 214.7 144.9 213.4C145.1 212.1 146.5 209.4 147 207.3C147.4 205.3 148.1 203.1 147.6 201C147.1 198.9 145 197 144.1 195C143.3 192.9 143.2 190.6 142.5 188.6C141.9 186.7 141.6 185.7 140.3 183.1C139 180.5 136.6 176.6 134.6 173.3C132.6 169.9 130.3 166.3 128.3 163C126.3 159.7 124.2 156 122.7 153.4C121.3 150.9 120.1 149.1 119.5 147.9C119 146.7 119.3 146.5 119.5 146.3Z"/>
</g>
<g id="arrows" fill="none" stroke="#000" stroke-opacity=".32" stroke-width="1.65" stroke-linecap="butt" stroke-linejoin="miter">
<path d="M367.2 283.4L334.2 94.6M338.9 100.6L334.2 94.6L331.8 101.8"/>
<path d="M367.2 283.4L348.8 95.7M353 102L348.8 95.7L345.9 102.7"/>
<path d="M367.2 283.4L362.8 103.9M366.5 110.5L362.8 103.9L359.4 110.7"/>
<path d="M367.2 283.4L134.9 254.6M142 251.9L134.9 254.6L141.1 259"/>
<path d="M367.2 283.4L178 249.3M185.2 247L178 249.3L184 254"/>
<path d="M367.2 283.4L172 255.4M179.1 252.8L172 255.4L178.1 259.9"/>
<path d="M367.2 283.4L156 279.5M162.8 276.1L156 279.5L162.6 283.2"/>
<path d="M367.2 283.4L77.6 314.8M83.9 310.5L77.6 314.8L84.7 317.6"/>
<path d="M367.2 283.4L167.4 335.2M173 330.1L167.4 335.2L174.8 337"/>
<path d="M367.2 283.4L518.2 417.2M510.8 415.4L518.2 417.2L515.5 410.1"/>
<path d="M367.2 283.4L495.5 455.7M488.6 452.4L495.5 455.7L494.4 448.2"/>
</g>
<g id="labels" class="sp">
<text x="255.6" y="90">Pecari tajacu</text>
<text x="355.2" y="90">Cuniculus paca</text>
<text x="336.6" y="118.8">Tinamus major</text>
<text x="45" y="247.9">Aotus griseimembra</text>
<text x="167.8" y="243.2">Ateles hybridus</text>
<text x="106" y="268.4">Caluromys lanatus</text>
<text x="71.8" y="294.6">Metachirus nudicaudatus</text>
<text x="85.8" y="318.9">Cebus versicolor</text>
<text x="97.6" y="349.9">Sciurus granatensis</text>
<text x="456.6" y="431.7">Cerdocyon thous</text>
<text x="358.2" y="468.5">Hydrochoerus isthmius</text>
</g>
<g id="frame" fill="none">
<rect x="40" y="77" width="540.35" height="396.40" stroke="#4d4d4d" stroke-width="1.1"/>
<path d="M82 75v4M82 471.4v4M139 75v4M139 471.4v4M196 75v4M196 471.4v4M253.1 75v4M253.1 471.4v4M310.1 75v4M310.1 471.4v4M367.1 75v4M367.1 471.4v4M424.2 75v4M424.2 471.4v4M481.2 75v4M481.2 471.4v4M538.3 75v4M538.3 471.4v4M38 454.2h4M578.4 454.2h4M38 397.3h4M578.4 397.3h4M38 340.4h4M578.4 340.4h4M38 283.4h4M578.4 283.4h4M38 226.5h4M578.4 226.5h4M38 169.6h4M578.4 169.6h4M38 112.7h4M578.4 112.7h4" stroke="#fff" stroke-width="1"/>
<path d="M139 473.4v4.2M253.1 473.4v4.2M367.1 473.4v4.2M481.2 473.4v4.2M40 397.3h-4.2M40 283.4h-4.2M40 169.6h-4.2" stroke="#333" stroke-width="1.25"/>
</g>
<g class="tk">
<text x="139" y="492.1" text-anchor="middle">-2</text>
<text x="253.1" y="492.1" text-anchor="middle">-1</text>
<text x="367.1" y="492.1" text-anchor="middle">0</text>
<text x="481.2" y="492.1" text-anchor="middle">1</text>
<text x="32.8" y="402.9" text-anchor="end">-1</text>
<text x="32.8" y="289.1" text-anchor="end">0</text>
<text x="32.8" y="175.2" text-anchor="end">1</text>
</g>
<text class="ti" x="309.5" y="510.8" text-anchor="middle">NMDS1</text>
<text class="ti" transform="translate(12.6 274.8) rotate(-90)" text-anchor="middle">NMDS2</text>
<g id="legend" class="lg">
<circle cx="125.7" cy="548.8" r="5.3" fill="#ee9b00"/><text x="145.6" y="554.6">Forest</text>
<circle cx="207.6" cy="548.8" r="5.3" fill="#001219"/><text x="226.4" y="554.6">Natural corridor</text>
<circle cx="349.1" cy="548.8" r="5.3" fill="#0a9396"/><text x="368.4" y="554.6">Corridor</text>
<circle cx="442.3" cy="548.8" r="5.3" fill="#ae2012"/><text x="461.4" y="554.6">Pasture</text>
</g>
</svg></body></html>
